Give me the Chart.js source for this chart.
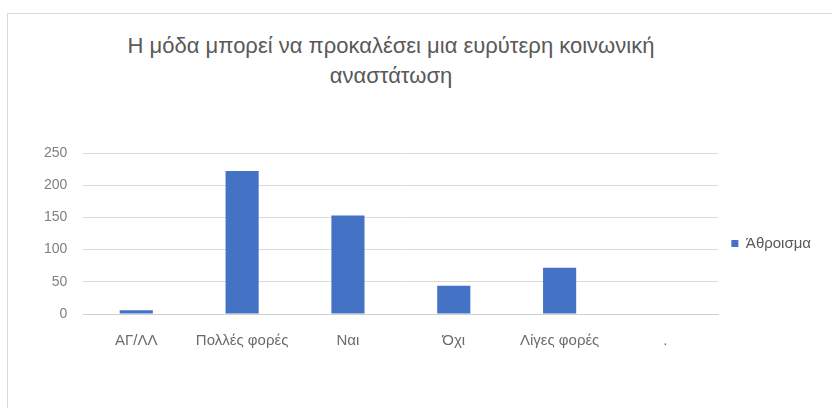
<!DOCTYPE html>
<html>
<head>
<meta charset="utf-8">
<script src="https://cdn.jsdelivr.net/npm/chart.js@4"></script>
<style>
  body { margin: 0; background: #fff; }
  #wrap { position: relative; width: 832px; height: 408px; overflow: hidden; }
  #frame { position: absolute; left: 7px; top: 13px; width: 840px; height: 400px;
           border-left: 1px solid #d9d9d9; border-top: 1px solid #d9d9d9; }
  #title { position: absolute; left: 71px; width: 640px; top: 31px; text-align: center;
           font-family: "Liberation Sans", Arial, sans-serif; font-size: 22px; line-height: 30px; color: #595959; }
  canvas { position: absolute; left: 0; top: 0; }
</style>
</head>
<body>
<div id="wrap">
  <div id="frame"></div>
  <div id="title">Η μόδα μπορεί να προκαλέσει μια ευρύτερη κοινωνική<br>αναστάτωση</div>
  <canvas id="myChart" width="832" height="408"></canvas>
</div>
<script>
const categories = ['ΑΓ/ΛΛ', 'Πολλές φορές', 'Ναι', 'Όχι', 'Λίγες φορές', '.'];
const values = [6, 222, 153, 44, 72, 0];
const seriesName = 'Άθροισμα';
const yTicks = [0, 50, 100, 150, 200, 250];

const ctx = document.getElementById('myChart').getContext('2d');
new Chart(ctx, {
  type: 'bar',
  data: {
    labels: categories,
    datasets: [{
      label: seriesName,
      data: values,
      backgroundColor: '#4472c4',
      categoryPercentage: 0.313,
      barPercentage: 1
    }]
  },
  options: {
    responsive: false,
    animation: false,
    layout: { padding: { left: 28, right: 11, top: 153, bottom: 40 } },
    plugins: {
      title: { display: false },
      tooltip: { enabled: false },
      legend: {
        position: 'right',
        fullSize: false,
        title: { display: true, text: ' ', font: { size: 10 }, padding: 4 },
        labels: {
          boxWidth: 7, boxHeight: 7, padding: 13,
          color: '#595959',
          font: { family: 'Liberation Sans', size: 15 }
        }
      }
    },
    scales: {
      x: {
        grid: { display: false, drawTicks: false },
        border: { color: '#d0d0d0' },
        ticks: { color: '#6b6b6b', padding: 18, maxRotation: 0, font: { family: 'Liberation Sans', size: 15 } }
      },
      y: {
        min: 0, max: 250,
        afterBuildTicks: axis => { axis.ticks = yTicks.map(v => ({ value: v })); },
        grid: { color: '#d9d9d9', drawTicks: false },
        border: { display: false },
        ticks: { color: '#7f7f7f', padding: 16, font: { family: 'Liberation Sans', size: 14 } }
      }
    }
  }
});
</script>
</body>
</html>
